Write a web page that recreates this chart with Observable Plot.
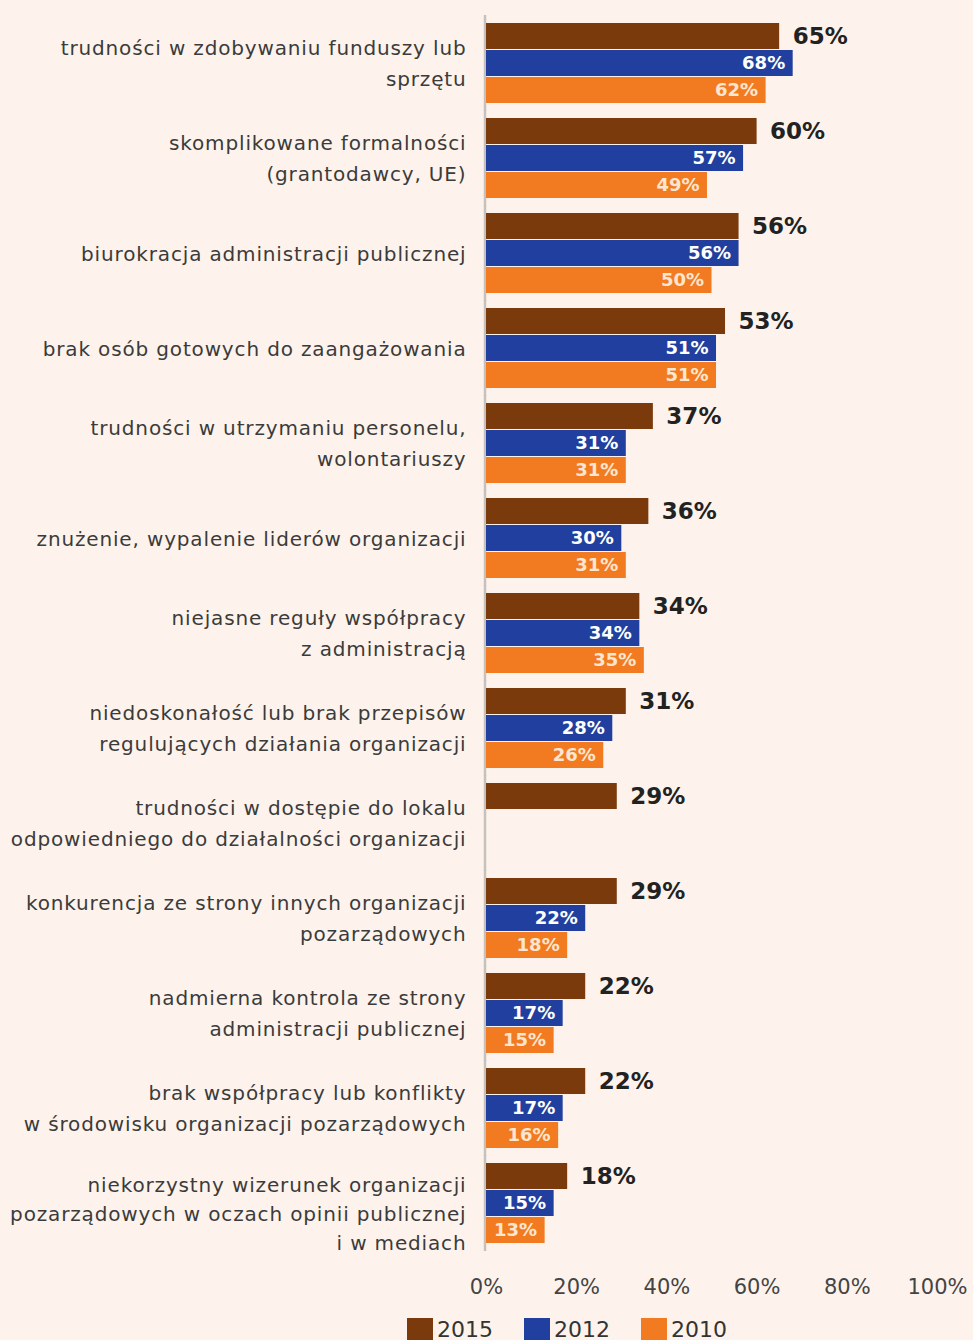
<!DOCTYPE html>
<html>
<head>
<meta charset="utf-8">
<script src="https://cdn.jsdelivr.net/npm/d3@7"></script>
<script src="https://cdn.jsdelivr.net/npm/@observablehq/plot@0.6"></script>
<style>
  html, body { margin: 0; padding: 0; background: #fdf3ec; }
  #chart svg { display: block; }
  #chart svg g[font-size="20"] { letter-spacing: 0.85px; }
  .legend { display: flex; align-items: center; margin-left: 407px; padding-top: 12px;
            font-family: "DejaVu Sans", sans-serif; font-size: 22px; color: #333; }
  .legend .item { display: flex; align-items: center; margin-right: 31px; }
  .legend .sw { width: 26px; height: 24px; margin-right: 4px; }
</style>
</head>
<body>
<div id="chart"></div>
<div class="legend" id="legend"></div>
<script>
const categories = [
  "trudności w zdobywaniu funduszy lub\nsprzętu",
  "skomplikowane formalności\n(grantodawcy, UE)",
  "biurokracja administracji publicznej",
  "brak osób gotowych do zaangażowania",
  "trudności w utrzymaniu personelu,\nwolontariuszy",
  "znużenie, wypalenie liderów organizacji",
  "niejasne reguły współpracy\nz administracją",
  "niedoskonałość lub brak przepisów\nregulujących działania organizacji",
  "trudności w dostępie do lokalu\nodpowiedniego do działalności organizacji",
  "konkurencja ze strony innych organizacji\npozarządowych",
  "nadmierna kontrola ze strony\nadministracji publicznej",
  "brak współpracy lub konflikty\nw środowisku organizacji pozarządowych",
  "niekorzystny wizerunek organizacji\npozarządowych w oczach opinii publicznej\ni w mediach"
];
const years = ["2015", "2012", "2010"];
const values2015 = [65, 60, 56, 53, 37, 36, 34, 31, 29, 29, 22, 22, 18];
const values2012 = [68, 57, 56, 51, 31, 30, 34, 28, null, 22, 17, 17, 15];
const values2010 = [62, 49, 50, 51, 31, 31, 35, 26, null, 18, 15, 16, 13];
const xTicks = [0, 20, 40, 60, 80, 100];
const colors = ["#7b3a0c", "#213f9e", "#f27b21"];

const series = { "2015": values2015, "2012": values2012, "2010": values2010 };
const rows = [];
categories.forEach((cat, i) => {
  years.forEach(y => {
    const v = series[y][i];
    if (v != null) rows.push({ cat, year: y, value: v });
  });
});
const catRows = categories.map(cat => ({ cat }));
const lastCat = categories[categories.length - 1];

const chart = Plot.plot({
  width: 973,
  height: 1305,
  marginLeft: 486,
  marginRight: 36,
  marginTop: 20,
  marginBottom: 60,
  style: { background: "transparent", fontFamily: "DejaVu Sans, sans-serif" },
  x: { domain: [0, 100], axis: null, label: null },
  fy: { domain: categories, axis: null, paddingInner: 0.139, paddingOuter: 0, label: null },
  y: { domain: years, axis: null, paddingInner: 0.055, paddingOuter: 0, label: null },
  color: { domain: years, range: colors },
  marks: [
    Plot.ruleX([0], { stroke: "#c6c1bc", strokeWidth: 2.5, dx: -1.5, insetTop: -7, insetBottom: -7 }),
    Plot.barX(rows, { fy: "cat", y: "year", x: "value", fill: "year" }),
    Plot.text(rows.filter(d => d.year === "2015"), {
      fy: "cat", y: "year", x: "value", text: d => d.value + "%",
      textAnchor: "start", dx: 13, fontSize: 23, fontWeight: "bold", fill: "#222"
    }),
    Plot.text(rows.filter(d => d.year === "2012"), {
      fy: "cat", y: "year", x: "value", text: d => d.value + "%",
      textAnchor: "end", dx: -8, fontSize: 18, fontWeight: "bold", fill: "#ffffff"
    }),
    Plot.text(rows.filter(d => d.year === "2010"), {
      fy: "cat", y: "year", x: "value", text: d => d.value + "%",
      textAnchor: "end", dx: -8, fontSize: 18, fontWeight: "bold", fill: "#fde6cf"
    }),
    Plot.text(catRows.filter(d => d.cat !== lastCat), {
      fy: "cat", frameAnchor: "left", text: "cat", textAnchor: "end", dx: -20, dy: -3,
      fontSize: 20, lineHeight: 1.58, fill: "#3b3b3b"
    }),
    Plot.text(catRows.filter(d => d.cat === lastCat), {
      fy: "cat", frameAnchor: "left", text: "cat", textAnchor: "end", dx: -20, dy: 8,
      fontSize: 20, lineHeight: 1.45, fill: "#3b3b3b"
    }),
    Plot.axisX({
      ticks: xTicks, tickFormat: d => d + "%", tickSize: 0, tickPadding: 35,
      fontSize: 21, fill: "#444", label: null
    })
  ]
});
document.getElementById("chart").appendChild(chart);

const legend = document.getElementById("legend");
years.forEach((y, i) => {
  const item = document.createElement("div");
  item.className = "item";
  const sw = document.createElement("div");
  sw.className = "sw";
  sw.style.background = colors[i];
  const t = document.createElement("span");
  t.textContent = y;
  item.appendChild(sw);
  item.appendChild(t);
  legend.appendChild(item);
});
</script>
</body>
</html>
